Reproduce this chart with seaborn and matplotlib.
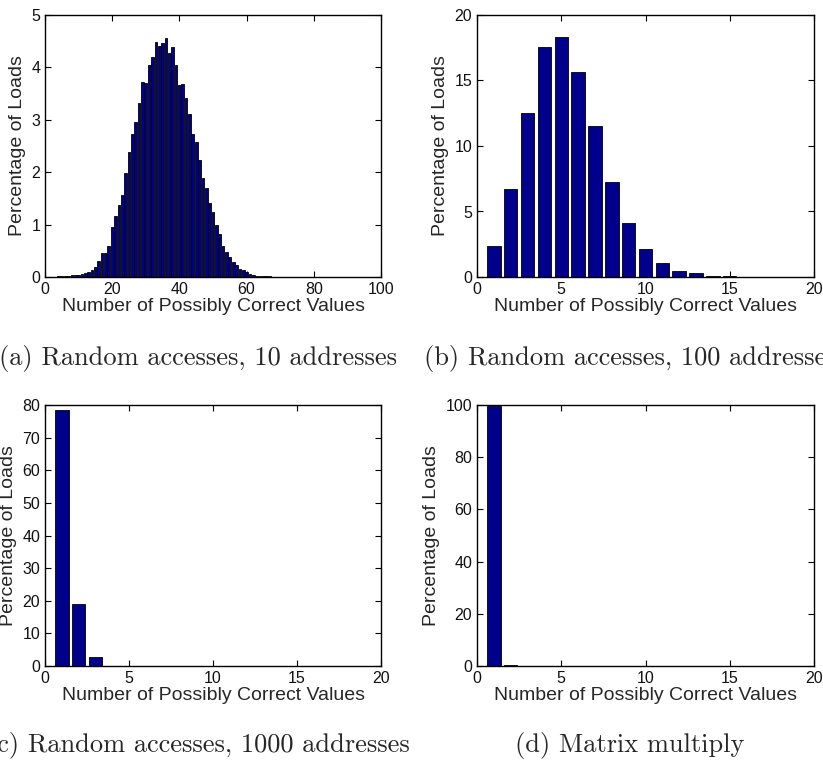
import matplotlib
matplotlib.use('Agg')
import matplotlib.pyplot as plt
import seaborn as sns
import pandas as pd

sns.set_style('ticks')
plt.rcParams['font.family'] = ['Liberation Sans', 'DejaVu Sans']

# ---- data ----
x_a = list(range(1, 101))
pct_a = [0.005, 0.005, 0.005, 0.01, 0.01, 0.01, 0.02, 0.03, 0.04, 0.03,
         0.06, 0.08, 0.10, 0.14, 0.20, 0.31, 0.46, 0.45, 0.59, 0.96,
         1.16, 1.37, 1.56, 1.99, 2.38, 2.73, 2.95, 3.33, 3.73, 3.71,
         4.04, 4.20, 4.49, 4.41, 4.46, 4.57, 4.28, 4.38, 4.04, 3.66,
         3.68, 3.41, 3.11, 2.73, 2.57, 2.23, 1.88, 1.69, 1.41, 1.24,
         1.00, 0.82, 0.59, 0.47, 0.38, 0.29, 0.22, 0.15, 0.13, 0.10,
         0.06, 0.03, 0.02, 0.02, 0.015, 0.01, 0.01, 0.005, 0.005, 0.005,
         0.005, 0.005, 0.005, 0.005, 0.005, 0.005, 0.003, 0.003, 0.003, 0.003,
         0.003, 0, 0, 0, 0, 0, 0, 0, 0, 0,
         0, 0, 0, 0, 0, 0, 0, 0, 0, 0]

x_b = list(range(1, 21))
pct_b = [2.34, 6.68, 12.53, 17.58, 18.29, 15.64, 11.54, 7.26, 4.13, 2.11,
         1.04, 0.46, 0.28, 0.10, 0.05, 0.03, 0.02, 0.01, 0.01, 0.005]

x_c = list(range(1, 21))
pct_c = [78.4, 18.9, 2.8, 0.15, 0.10, 0.10, 0.03, 0.02, 0.01, 0.01,
         0.005, 0.005, 0.005, 0.005, 0.005, 0.005, 0.005, 0.005, 0.005, 0.005]

x_d = list(range(1, 21))
pct_d = [99.7, 0.25, 0.02, 0.01, 0.005, 0.005, 0.005, 0.005, 0.005, 0.005,
         0.005, 0.005, 0.005, 0.005, 0.005, 0.005, 0.005, 0.005, 0.005, 0.005]

xlims = [100, 20, 20, 20]
xticks = [[0, 20, 40, 60, 80, 100], [0, 5, 10, 15, 20], [0, 5, 10, 15, 20], [0, 5, 10, 15, 20]]
ylims = [5, 20, 80, 100]
yticks = [[0, 1, 2, 3, 4, 5], [0, 5, 10, 15, 20], [0, 10, 20, 30, 40, 50, 60, 70, 80],
          [0, 20, 40, 60, 80, 100]]
captions = ["(a) Random accesses, 10 addresses",
            "(b) Random accesses, 100 addresses",
            "(c) Random accesses, 1000 addresses",
            "(d) Matrix multiply"]
xlabel = "Number of Possibly Correct Values"
ylabel = "Percentage of Loads"

W, H = 823, 760
fig = plt.figure(figsize=(W / 100, H / 100), dpi=100)

# axes boxes in pixels: left, top, right, bottom
boxes = [(45, 15, 381, 277), (477, 15, 814, 277),
         (45, 405, 381, 666), (477, 405, 814, 666)]
cap_pos = [(198, 365), (630, 365), (198, 752), (630, 752)]

datasets = [(x_a, pct_a), (x_b, pct_b), (x_c, pct_c), (x_d, pct_d)]

for i, ((xs, ys), (l, t, r, b)) in enumerate(zip(datasets, boxes)):
    ax = fig.add_axes([l / W, 1 - b / H, (r - l) / W, (b - t) / H])
    df = pd.DataFrame({'x': xs, 'y': ys})
    sns.barplot(data=df, x='x', y='y', native_scale=True, ax=ax,
                color='#00008C', saturation=1, edgecolor='black',
                linewidth=0.6, errorbar=None, width=0.8)
    ax.set_xlim(0, xlims[i])
    ax.set_ylim(0, ylims[i])
    ax.set_xticks(xticks[i])
    ax.set_yticks(yticks[i])
    ax.set_xlabel(xlabel, fontsize=14, labelpad=0.5)
    ax.set_ylabel(ylabel, fontsize=14, labelpad=4)
    ax.tick_params(direction='in', length=4, width=0.8, top=True, right=True,
                   labelsize=11.5, pad=3.5, color='black', labelcolor='#111111')
    for s in ax.spines.values():
        s.set_visible(True)
        s.set_linewidth(1.0)
        s.set_color('black')
    cx, cy = cap_pos[i]
    fig.text(cx / W, 1 - cy / H, captions[i], ha='center', va='baseline',
             fontsize=19, family=['cmr10', 'DejaVu Serif'])

fig.savefig('out.png', dpi=100)
